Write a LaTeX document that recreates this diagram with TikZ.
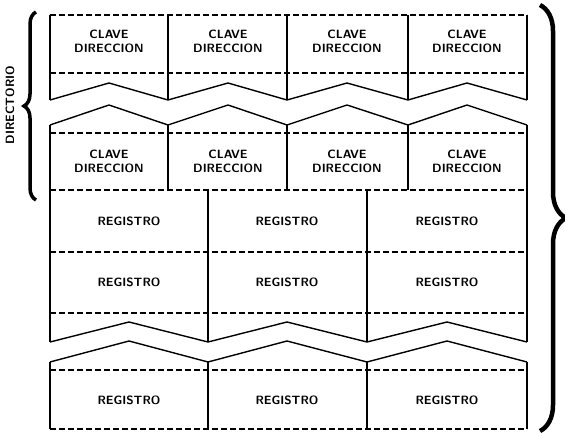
\documentclass[tikz,border=0pt]{standalone}
\usetikzlibrary{decorations.pathreplacing}
\tikzstyle{edge} = [line width=1.4pt]
\tikzstyle{sep} = [line width=1.1pt, dash pattern=on 6pt off 3pt]
\tikzstyle{bigbrace} = [decorate, decoration={brace, amplitude=12pt}, line width=3.5pt]
\tikzstyle{keytext} = [font=\sffamily\bfseries\large, align=center]
\tikzstyle{regtext} = [font=\sffamily\bfseries\large]

\begin{document}
\begin{tikzpicture}[x=1pt, y=-1pt]
\useasboundingbox (0,0) rectangle (565,433);

% Directory, first block
\draw[sep] (50,15) -- (527,15);
\draw[sep] (50,73) -- (527,73);
\draw[edge] (50,15) -- (50,100) (168,15) -- (168,100) (287,15) -- (287,100) (408,15) -- (408,100) (527,15) -- (527,100);
\draw[edge] (50,100) -- (109,83) -- (168,100) -- (228,83) -- (287,100) -- (347,83) -- (408,100) -- (467,83) -- (527,100);

% Directory, second block
\draw[edge] (50,125) -- (109,105) -- (168,125) -- (228,105) -- (287,125) -- (347,105) -- (408,125) -- (467,105) -- (527,125);
\draw[edge] (168,125) -- (168,190) (287,125) -- (287,190) (408,125) -- (408,190);
\draw[sep] (50,133) -- (527,133);
\draw[sep] (50,190) -- (527,190);

% Records
\draw[edge] (50,125) -- (50,342) (527,125) -- (527,342);
\draw[edge] (208,190) -- (208,342) (367,190) -- (367,342);
\draw[sep] (50,252) -- (527,252);
\draw[sep] (50,313) -- (527,313);
\draw[edge] (50,342) -- (129,322) -- (208,342) -- (287,322) -- (367,342) -- (447,322) -- (527,342);

% Last records
\draw[edge] (50,362) -- (129,341) -- (208,362) -- (287,341) -- (367,362) -- (447,341) -- (527,362);
\draw[edge] (50,362) -- (50,429) (208,362) -- (208,429) (367,362) -- (367,429) (527,362) -- (527,429);
\draw[sep] (50,370) -- (527,370);
\draw[sep] (50,429) -- (527,429);

% Nodes
\node[keytext] (key1) at (109,41) {CLAVE\\DIRECCION};
\node[keytext] (key2) at (228,41) {CLAVE\\DIRECCION};
\node[keytext] (key3) at (347,41) {CLAVE\\DIRECCION};
\node[keytext] (key4) at (467,41) {CLAVE\\DIRECCION};
\node[keytext] (key5) at (109,161) {CLAVE\\DIRECCION};
\node[keytext] (key6) at (228,161) {CLAVE\\DIRECCION};
\node[keytext] (key7) at (347,161) {CLAVE\\DIRECCION};
\node[keytext] (key8) at (467,161) {CLAVE\\DIRECCION};
\node[regtext] (reg1) at (129,221) {REGISTRO};
\node[regtext] (reg2) at (287,221) {REGISTRO};
\node[regtext] (reg3) at (447,221) {REGISTRO};
\node[regtext] (reg4) at (129,282) {REGISTRO};
\node[regtext] (reg5) at (287,282) {REGISTRO};
\node[regtext] (reg6) at (447,282) {REGISTRO};
\node[regtext] (reg7) at (129,400) {REGISTRO};
\node[regtext] (reg8) at (287,400) {REGISTRO};
\node[regtext] (reg9) at (447,400) {REGISTRO};
\node[keytext, rotate=90] (dirlabel) at (10,105) {DIRECTORIO};

% Braces
\coordinate (ltop) at (36,12);
\coordinate (lbot) at (36,200);
\coordinate (rtop) at (540,5);
\coordinate (rbot) at (540,431);
\draw[bigbrace] (lbot) -- (ltop);
\draw[bigbrace, line width=4.5pt, decoration={brace, amplitude=26pt}] (rtop) -- (rbot);

\end{tikzpicture}
\end{document}
